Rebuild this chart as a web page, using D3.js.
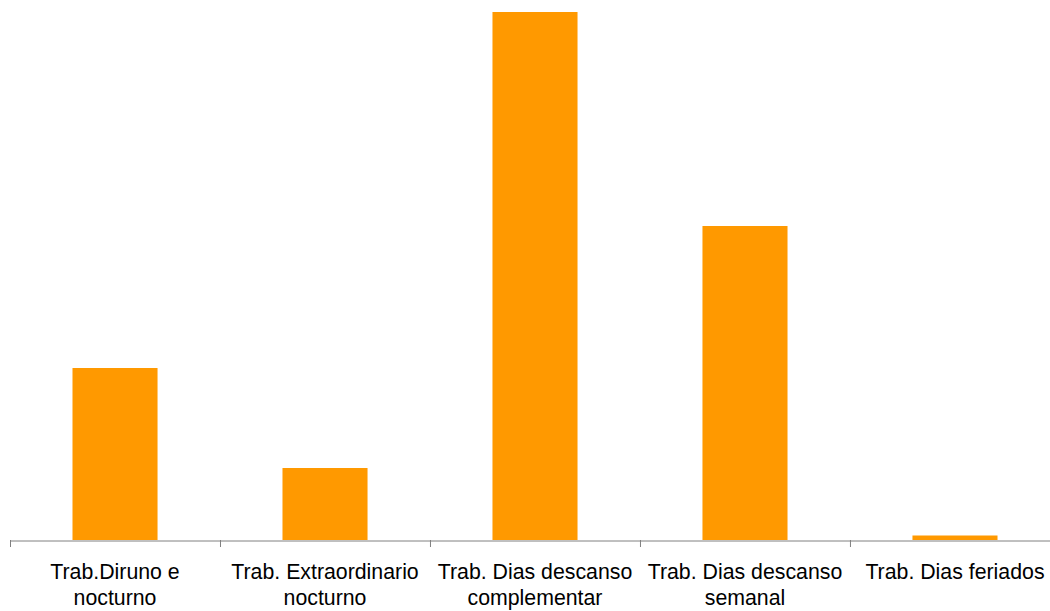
<!DOCTYPE html>
<html>
<head>
<meta charset="utf-8">
<script src="https://cdn.jsdelivr.net/npm/d3@7/dist/d3.min.js"></script>
<style>
  html, body { margin: 0; padding: 0; background: #ffffff; }
  svg { display: block; }
</style>
</head>
<body>
<svg id="chart" width="1050" height="611"></svg>
<script>
const categories = [
  "Trab.Diruno e|nocturno",
  "Trab. Extraordinario|nocturno",
  "Trab. Dias descanso|complementar",
  "Trab. Dias descanso|semanal",
  "Trab. Dias feriados"
];
const values = [172, 72, 528, 314, 4.5];

const svg = d3.select("#chart");
const baseY = 540;

const x = d3.scaleBand()
  .domain(categories)
  .range([10, 1060])
  .paddingInner(0.595)
  .paddingOuter(0.2976);

const y = d3.scaleLinear()
  .domain([0, 540])
  .range([baseY, 0]);

// bars
svg.append("g")
  .selectAll("rect")
  .data(categories)
  .join("rect")
  .attr("x", d => x(d))
  .attr("width", x.bandwidth())
  .attr("y", (d, i) => y(values[i]))
  .attr("height", (d, i) => baseY - y(values[i]))
  .attr("fill", "#ff9900");

// axis line
const axisG = svg.append("g")
  .attr("transform", `translate(0,${baseY + 0.5})`)
  .call(d3.axisBottom(x).tickSize(0).tickSizeOuter(6).tickFormat(""));
axisG.select(".domain").attr("stroke", "#808080").attr("stroke-width", 1);
axisG.selectAll(".tick").remove();

// boundary ticks
const step = x.step();
const boundaries = d3.range(categories.length + 1).map(i => x.range()[0] + i * step);
svg.append("g")
  .selectAll("line")
  .data(boundaries)
  .join("line")
  .attr("x1", d => d + 0.5)
  .attr("x2", d => d + 0.5)
  .attr("y1", baseY)
  .attr("y2", baseY + 7)
  .attr("stroke", "#808080")
  .attr("stroke-width", 1);

// labels
const labels = svg.append("g")
  .selectAll("text")
  .data(categories)
  .join("text")
  .attr("x", d => x(d) + x.bandwidth() / 2)
  .attr("y", 579)
  .attr("text-anchor", "middle")
  .attr("font-family", "'Liberation Sans', Arial, sans-serif")
  .attr("font-size", "21.3px")
  .attr("fill", "#000000");

labels.each(function(d) {
  const parts = d.split("|");
  const t = d3.select(this);
  parts.forEach((p, i) => {
    t.append("tspan")
      .attr("x", x(d) + x.bandwidth() / 2)
      .attr("dy", i === 0 ? 0 : 26)
      .text(p);
  });
});
</script>
</body>
</html>
